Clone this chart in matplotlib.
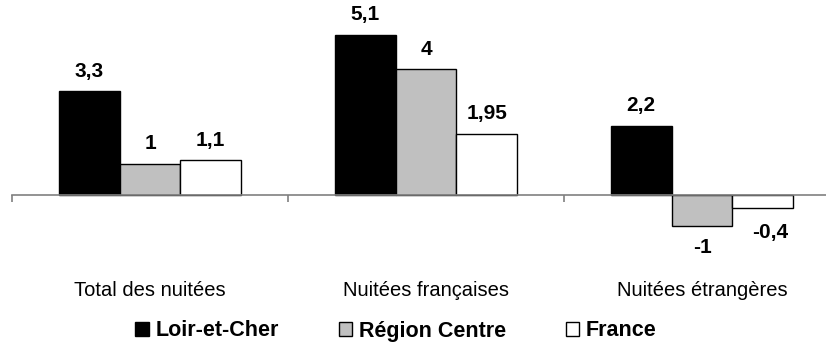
import matplotlib.pyplot as plt
import numpy as np

plt.rcParams['font.family'] = ['Liberation Sans', 'DejaVu Sans']

categories = ['Total des nuitées', 'Nuitées françaises', 'Nuitées étrangères']
series_names = ['Loir-et-Cher', 'Région Centre', 'France']
loir_et_cher = [3.3, 5.1, 2.2]
region_centre = [1, 4, -1]
france = [1.1, 1.95, -0.4]
labels = [['3,3', '5,1', '2,2'], ['1', '4', '-1'], ['1,1', '1,95', '-0,4']]

colors = ['#000000', '#c0c0c0', '#ffffff']
values = [loir_et_cher, region_centre, france]

fig = plt.figure(figsize=(8.26, 3.45), dpi=100)
# axes placed in pixel terms: x from 12 to 840, y from 10 to 265 (top down)
ax = fig.add_axes([12 / 826, 1 - 265 / 345, 828 / 826, 255 / 345])

px_per_unit = 31.4
ax.set_ylim(-70 / px_per_unit, 185 / px_per_unit)
ax.set_xlim(-0.5, 2.5)

x = np.arange(len(categories))
w = 0.22
for i, (vals, col) in enumerate(zip(values, colors)):
    pos = x + (i - 1) * w
    ax.bar(pos, vals, width=w, color=col, edgecolor='black', linewidth=1,
           label=series_names[i], zorder=2)
    for j, v in enumerate(vals):
        dx = 7 if v < 0 and i == 2 else 0
        dy = 20 if v >= 0 else (-25 if i == 2 else -21)
        ax.annotate(labels[i][j], (pos[j], v), xytext=(dx * 0.72, dy * 0.72),
                    textcoords='offset points', ha='center', va='center',
                    fontsize=15, fontweight='bold')

for s in ['top', 'right', 'left']:
    ax.spines[s].set_visible(False)
ax.spines['bottom'].set_position(('data', 0))
ax.spines['bottom'].set_color('#808080')
ax.spines['bottom'].set_linewidth(1.2)
ax.set_yticks([])

ax.set_xticks(np.arange(-0.5, 3.0, 1.0))
ax.set_xticklabels([])
ax.tick_params(axis='x', which='major', direction='out', length=5,
               color='#808080', width=1.2)
ax.set_xticks(x, minor=True)
ax.set_xticklabels(categories, minor=True, fontsize=14.5)
ax.tick_params(axis='x', which='minor', length=0, pad=62)

fig.legend(loc='center', bbox_to_anchor=(396 / 826, 1 - 331 / 345), ncol=3,
           frameon=False, prop={'weight': 'bold', 'size': 15.5},
           handlelength=0.62, handleheight=0.62, handletextpad=0.3,
           columnspacing=2.8)

fig.savefig('out.png', dpi=100)
